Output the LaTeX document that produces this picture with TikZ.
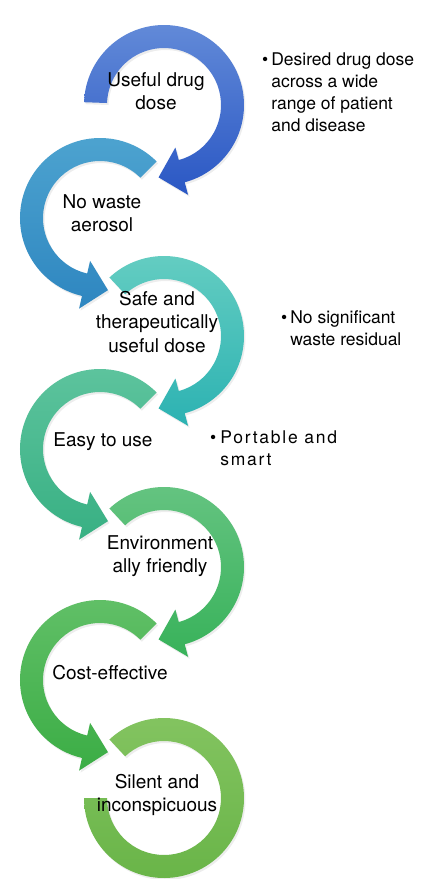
\documentclass[tikz,border=0pt]{standalone}
\usepackage{fontspec}
\setmainfont{TeX Gyre Heros}
\usetikzlibrary{positioning,calc}

\definecolor{blueTop}{HTML}{628AD8}
\definecolor{blueBot}{HTML}{2A57C4}
\definecolor{steelTop}{HTML}{4EA4D0}
\definecolor{steelBot}{HTML}{2E86C0}
\definecolor{tealTop}{HTML}{66CEC2}
\definecolor{tealBot}{HTML}{2CB2B2}
\definecolor{mintTop}{HTML}{5EC49E}
\definecolor{mintBot}{HTML}{38B083}
\definecolor{leafTop}{HTML}{66C482}
\definecolor{leafBot}{HTML}{38B25A}
\definecolor{grassTop}{HTML}{62C068}
\definecolor{grassBot}{HTML}{3BAD45}
\definecolor{oliveTop}{HTML}{84C461}
\definecolor{oliveBot}{HTML}{68B447}

\tikzset{
  ring label/.style={font=\fontsize{19}{23.5}\selectfont, align=center, inner sep=0pt},
  side note/.style={font=\fontsize{17.5}{22}\selectfont, anchor=north west, inner sep=0pt},
  soft shadow/.style={preaction={fill=black, opacity=.07, transform canvas={shift={(1.5pt,-2pt)}}}},
}

\begin{document}
\begin{tikzpicture}[x=1pt,y=1pt]
\fill[white] (0,0) rectangle (425,-879);
\useasboundingbox (0,0) rectangle (425,-879);

% ring centres, zig-zag down the page
\coordinate (c1) at (164,-105);
\coordinate[below left=113pt and 64pt of c1] (c2);
\coordinate[below right=118pt and 64pt of c2] (c3);
\coordinate[below left=113pt and 64pt of c3] (c4);
\coordinate[below right=118pt and 64pt of c4] (c5);
\coordinate[below left=113pt and 64pt of c5] (c6);
\coordinate[below right=118pt and 64pt of c6] (c7);

% circular arrows: centre / tail angle / head angle / tip direction / colours
\foreach \ctr/\beg/\fin/\tipdir/\lite/\dark in {
    c1/178/-75/-165/blueTop/blueBot,
    c2/45/257/347/steelTop/steelBot,
    c3/133/-75/-165/tealTop/tealBot,
    c4/45/257/347/mintTop/mintBot,
    c5/133/-75/-165/leafTop/leafBot,
    c6/45/257/347/grassTop/grassBot}{
  \shade[soft shadow, top color=\lite, bottom color=\dark]
    ($(\ctr)+(\beg:80pt)$) arc[start angle=\beg, end angle=\fin, radius=80pt]
    -- ($(\ctr)+(\fin:57pt)$) arc[start angle=\fin, end angle=\beg, radius=57pt] -- cycle
    ($(\ctr)+(\fin:93pt)$) -- ($(\ctr)+(\fin:44pt)$)
    -- ($(\ctr)+(\fin:68.5pt)+(\tipdir:24pt)$) -- cycle;
}
% last ring has no head
\shade[soft shadow, top color=oliveTop, bottom color=oliveBot]
  ($(c7)+(133:80pt)$) arc[start angle=133, end angle=-180, radius=80pt]
  -- ($(c7)+(-180:57pt)$) arc[start angle=-180, end angle=133, radius=57pt] -- cycle;

\node[ring label] (useful) at ($(c1)+(-8,14)$) {Useful drug\\dose};
\node[ring label] (waste) at ($(c2)+(2,5)$) {No waste\\aerosol};
\node[ring label] (safe) at ($(c3)+(-7,14)$) {Safe and\\therapeutically\\useful dose};
\node[ring label] (easy) at ($(c4)+(3,7)$) {Easy to use};
\node[ring label] (green) at ($(c5)+(-4,11)$) {Environment\\ally friendly};
\node[ring label] (cost) at ($(c6)+(10,7)$) {Cost-effective};
\node[ring label] (silent) at ($(c7)+(-7,3)$) {Silent and\\inconspicuous};

\node[side note] (dosenote) at (262,-50) {\begin{tabular}{@{}l@{\hspace{3pt}}l@{}}
  \textbullet & Desired drug dose\\ & across a wide\\ & range of patient\\ & and disease\end{tabular}};
\node[side note] (residual) at (281,-308) {\begin{tabular}{@{}l@{\hspace{3pt}}l@{}}
  \textbullet & No significant\\ & waste residual\end{tabular}};
\node[side note] (portable) at (210,-428) {\addfontfeatures{LetterSpace=10}\begin{tabular}{@{}l@{\hspace{4pt}}l@{}}
  \textbullet & Portable and\\ & smart\end{tabular}};
\end{tikzpicture}
\end{document}
